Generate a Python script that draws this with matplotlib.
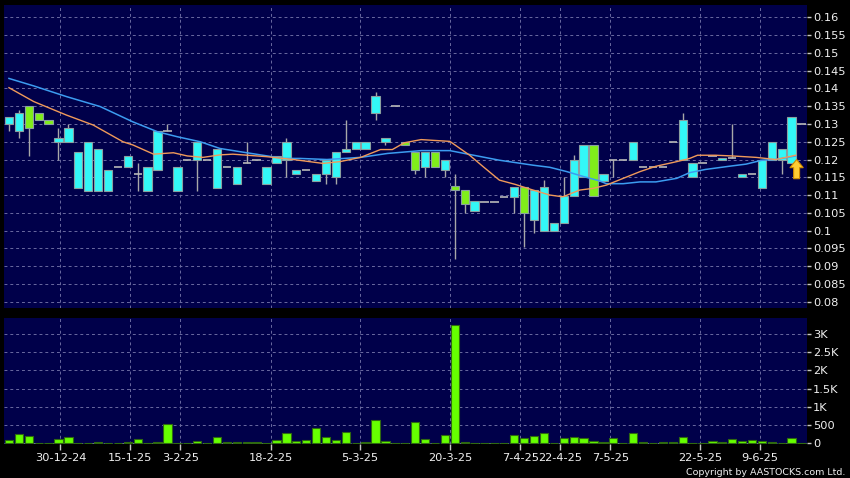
import matplotlib as mplt
mplt.use('Agg')
import numpy as np
import matplotlib.pyplot as plt
from matplotlib.patches import FancyArrow

# one slot per trading day
opens = [0.130, 0.128, 0.135, 0.133, 0.131, 0.125, 0.125, 0.112, 0.111, 0.111,
         0.111, 0.118, 0.118, 0.116, 0.111, 0.117, 0.128, 0.111, 0.120, 0.120,
         0.120, 0.112, 0.118, 0.113, 0.119, 0.120, 0.113, 0.119, 0.120, 0.116,
         0.117, 0.114, 0.116, 0.115, 0.122, 0.123, 0.123, 0.133, 0.125, 0.135,
         0.125, 0.122, 0.118, 0.122, 0.117, 0.1125, 0.1115, 0.1055, 0.108, 0.108,
         0.1095, 0.1095, 0.1123, 0.103, 0.100, 0.100, 0.1022, 0.1096, 0.115, 0.124,
         0.114, 0.120, 0.120, 0.120, 0.118, 0.118, 0.118, 0.125, 0.120, 0.115,
         0.119, 0.121, 0.120, 0.1205, 0.115, 0.116, 0.112, 0.120, 0.120, 0.119,
         0.130]
highs = [0.132, 0.134, 0.135, 0.133, 0.131, 0.129, 0.130, 0.122, 0.125, 0.123,
         0.117, 0.118, 0.121, 0.119, 0.118, 0.128, 0.130, 0.118, 0.120, 0.125,
         0.120, 0.123, 0.118, 0.118, 0.125, 0.120, 0.118, 0.121, 0.126, 0.117,
         0.117, 0.116, 0.120, 0.122, 0.131, 0.125, 0.125, 0.139, 0.126, 0.135,
         0.125, 0.122, 0.122, 0.122, 0.120, 0.116, 0.1115, 0.1083, 0.108, 0.108,
         0.1095, 0.1123, 0.1123, 0.1115, 0.1142, 0.1022, 0.1151, 0.1212, 0.124, 0.124,
         0.116, 0.120, 0.120, 0.125, 0.118, 0.118, 0.118, 0.125, 0.133, 0.119,
         0.119, 0.121, 0.1205, 0.130, 0.116, 0.116, 0.120, 0.125, 0.123, 0.132,
         0.130]
lows = [0.128, 0.126, 0.121, 0.131, 0.130, 0.120, 0.125, 0.112, 0.111, 0.111,
        0.111, 0.118, 0.118, 0.111, 0.111, 0.117, 0.128, 0.111, 0.120, 0.111,
        0.120, 0.112, 0.118, 0.113, 0.119, 0.120, 0.113, 0.119, 0.115, 0.116,
        0.117, 0.114, 0.113, 0.113, 0.122, 0.123, 0.123, 0.131, 0.124, 0.135,
        0.124, 0.116, 0.115, 0.118, 0.115, 0.092, 0.105, 0.1055, 0.108, 0.108,
        0.1095, 0.105, 0.0955, 0.0993, 0.100, 0.100, 0.1022, 0.1096, 0.115, 0.1096,
        0.114, 0.115, 0.120, 0.120, 0.118, 0.118, 0.118, 0.125, 0.120, 0.115,
        0.119, 0.121, 0.120, 0.1205, 0.115, 0.116, 0.112, 0.120, 0.116, 0.119,
        0.130]
closes = [0.132, 0.133, 0.129, 0.131, 0.130, 0.126, 0.129, 0.122, 0.125, 0.123,
          0.117, 0.118, 0.121, 0.116, 0.118, 0.128, 0.128, 0.118, 0.120, 0.125,
          0.120, 0.123, 0.118, 0.118, 0.119, 0.120, 0.118, 0.121, 0.125, 0.117,
          0.117, 0.116, 0.120, 0.122, 0.123, 0.125, 0.125, 0.138, 0.126, 0.135,
          0.124, 0.117, 0.122, 0.118, 0.120, 0.1115, 0.1075, 0.1083, 0.108, 0.108,
          0.1095, 0.1123, 0.105, 0.1115, 0.1123, 0.1022, 0.1096, 0.120, 0.124, 0.1096,
          0.116, 0.120, 0.120, 0.125, 0.118, 0.118, 0.118, 0.125, 0.131, 0.119,
          0.119, 0.121, 0.1205, 0.1205, 0.116, 0.116, 0.120, 0.125, 0.123, 0.132,
          0.130]
volumes = [90, 255, 200, 20, 0, 118, 164, 0, 10, 30,
           0, 0, 30, 118, 5, 30, 527, 0, 0, 50,
           0, 180, 45, 45, 45, 45, 10, 90, 273, 64,
           90, 410, 180, 90, 320, 0, 45, 636, 55, 0,
           15, 582, 118, 0, 227, 3260, 25, 5, 0, 0,
           5, 227, 145, 190, 282, 20, 155, 173, 136, 64,
           36, 145, 15, 290, 36, 0, 45, 25, 173, 10,
           10, 64, 25, 109, 64, 100, 73, 27, 18, 145,
           0]

# moving averages, read at a few slots
ma_long_x = [0, 2.5, 5.8, 9.2, 12.5, 15, 17, 19.3, 21.3, 24, 27.7, 29.4, 32.1, 35.5,
             38.2, 41.6, 44.5, 46.9, 49.5, 52.9, 54.6, 56.3, 58.0, 59.6, 60.3, 62,
             63.7, 65.3, 67.4, 68.7, 70.3, 72.7, 74.4, 76, 77.4, 79.4]
ma_long = [0.1428, 0.1407, 0.1377, 0.1349, 0.1306, 0.1278, 0.1264, 0.1250, 0.1231,
           0.1219, 0.1203, 0.1203, 0.1200, 0.1206, 0.1217, 0.1225, 0.1225, 0.1212,
           0.1198, 0.1184, 0.1178, 0.1166, 0.1152, 0.1140, 0.1132, 0.1132, 0.1137,
           0.1137, 0.1147, 0.1163, 0.1172, 0.1181, 0.1187, 0.1198, 0.1200, 0.1210]
ma_short_x = [0, 2.5, 5.8, 8.5, 11.5, 12.5, 14.6, 16.6, 18, 19.6, 21.3, 22.6, 26,
              28.7, 31.7, 33.4, 35.5, 37.5, 38.7, 39.9, 41.6, 44.5, 46.5, 47.9, 49.5,
              51.1, 52.9, 54.6, 55.9, 57.6, 59.0, 60.3, 62, 63.7, 65.3, 67.4, 68.7,
              69.5, 71.3, 73, 75.4, 77.4, 79.4]
ma_short = [0.1402, 0.1363, 0.1325, 0.1297, 0.1250, 0.1241, 0.1215, 0.1219, 0.1210,
            0.1206, 0.1213, 0.1215, 0.1208, 0.1200, 0.1189, 0.1194, 0.1206, 0.1228,
            0.1228, 0.1247, 0.1256, 0.1251, 0.1212, 0.1179, 0.1142, 0.1130, 0.1114,
            0.1100, 0.1095, 0.1114, 0.1119, 0.1128, 0.1147, 0.1166, 0.1181, 0.1194,
            0.1203, 0.1212, 0.1212, 0.1210, 0.1206, 0.1200, 0.1212]

price_ticks = [0.08, 0.085, 0.09, 0.095, 0.1, 0.105, 0.11, 0.115, 0.12, 0.125,
               0.13, 0.135, 0.14, 0.145, 0.15, 0.155, 0.16]
price_labels = ['0.08', '0.085', '0.09', '0.095', '0.1', '0.105', '0.11', '0.115',
                '0.12', '0.125', '0.13', '0.135', '0.14', '0.145', '0.15', '0.155', '0.16']
vol_ticks = [0, 500, 1000, 1500, 2000, 2500, 3000]
vol_labels = ['0', '500', '1K', '1.5K', '2K', '2.5K', '3K']
date_ticks = [5.2, 12.2, 17.3, 26.4, 35.4, 44.5, 51.6, 55.6, 60.7, 69.8, 75.8]
date_labels = ['30-12-24', '15-1-25', '3-2-25', '18-2-25', '5-3-25', '20-3-25',
               '7-4-25', '22-4-25', '7-5-25', '22-5-25', '9-6-25']

bg = '#00004a'
grid_c = '#6a6aa0'
up_c = '#33f7f7'
dn_c = '#80ee1a'
txt_c = '#f0f0f0'
fsize = 8.2


def style_axis(ax):
    ax.set_facecolor(bg)
    for s in ax.spines.values():
        s.set_visible(False)
    ax.grid(True, color=grid_c, ls=(0, (3, 3)), lw=0.7)
    ax.set_axisbelow(True)
    ax.yaxis.tick_right()
    ax.tick_params('y', length=3, width=1, color='#c8c8c8', labelcolor=txt_c,
                   labelsize=fsize, pad=1.5, direction='out')


def main():
    fig = plt.figure(figsize=(8.5, 4.78), dpi=100)
    fig.patch.set_facecolor('black')
    ax1 = fig.add_axes([4 / 850, 1 - 308 / 478, 803 / 850, 303 / 478])
    ax2 = fig.add_axes([4 / 850, 1 - 444 / 478, 803 / 850, 126 / 478], sharex=ax1)
    style_axis(ax1)
    style_axis(ax2)

    x = np.arange(len(opens))
    o = np.array(opens)
    h = np.array(highs)
    l = np.array(lows)
    c = np.array(closes)
    w = 0.84

    # wicks
    ax1.vlines(x, l, h, color='#a8a8a8', lw=1, zorder=2)
    flat = np.isclose(o, c)
    ax1.hlines(o[flat], x[flat] - w / 2, x[flat] + w / 2, color='#b8b8b8', lw=1.2, zorder=3)
    body = ~flat
    cols = np.where(c >= o, up_c, dn_c)
    ax1.bar(x[body], np.abs(c - o)[body], bottom=np.minimum(o, c)[body], width=w,
            color=cols[body], edgecolor='#8aa0a0', lw=0.8, zorder=3)

    ax1.plot(ma_long_x, ma_long, color='#3c9cf0', lw=1.1, zorder=4)
    ax1.plot(ma_short_x, ma_short, color='#f09a5a', lw=1.0, zorder=4)

    ax1.add_patch(FancyArrow(79.5, 0.1146, 0, 0.0054, width=0.6, head_width=1.35,
                             head_length=0.0023, length_includes_head=True,
                             facecolor='#ffcc33', edgecolor='#d08a00', lw=0.8, zorder=6))

    ax1.set_ylim(0.07823, 0.16346)
    ax1.set_yticks(price_ticks)
    ax1.set_yticklabels(price_labels)
    ax1.set_xlim(-0.5, 80.55)
    ax1.set_xticks(date_ticks)
    ax1.tick_params('x', length=0, labelbottom=False)

    # volume
    ax2.bar(x, volumes, width=w, color='#66ff00', edgecolor='#2f6a10', lw=0.8, zorder=3)
    ax2.set_ylim(-20, 3440)
    ax2.set_yticks(vol_ticks)
    ax2.set_yticklabels(vol_labels)
    ax2.set_xticks(date_ticks)
    ax2.set_xticklabels(date_labels)
    ax2.tick_params('x', length=4, width=1, color='#c8c8c8', labelcolor=txt_c,
                    labelsize=fsize, pad=2.5, direction='out')

    fig.text(0.995, 0.003, 'Copyright by AASTOCKS.com Ltd.', color=txt_c,
             size=6.8, ha='right', va='bottom')

    fig.savefig('out.png', dpi=100, facecolor=fig.get_facecolor())


if __name__ == "__main__":
    main()
